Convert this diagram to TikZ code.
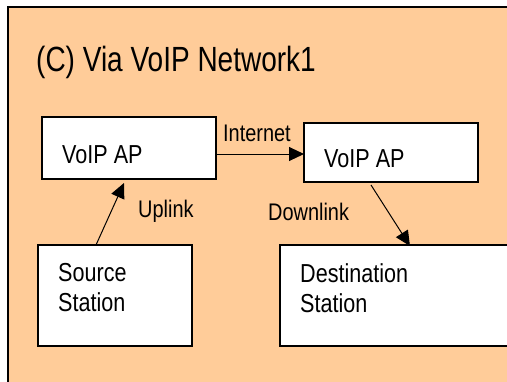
\documentclass[tikz,border=0pt]{standalone}
\usepackage{fontspec}
\setmainfont[FakeStretch=0.83]{Liberation Sans}
\newfontfamily\titlefont[FakeStretch=0.8]{Liberation Sans}
\usetikzlibrary{arrows.meta}
\definecolor{peach}{RGB}{255,204,153}
\begin{document}
\begin{tikzpicture}[x=1pt,y=-1pt,
  box/.style={draw=black,fill=white,line width=1.3pt,inner sep=0pt,outer sep=0pt,anchor=north west},
  boxtext/.style={inner sep=0pt,font=\fontsize{26}{30}\selectfont,align=left},
  lbl/.style={inner sep=0pt,anchor=base west,font=\fontsize{24}{28}\selectfont},
  arr/.style={line width=1pt,-{Triangle[length=15pt,width=14pt]}}]
\useasboundingbox (0,0) rectangle (507,381);
\clip (0,0) rectangle (507,381);
\fill[white] (0,0) rectangle (507,381);
\draw[fill=peach,line width=1.3pt] (8,7) rectangle (530,400);
\node[inner sep=0pt,anchor=base west,font=\titlefont\fontsize{35}{42}\selectfont] (title) at (36,71) {(C) Via VoIP Network1};
\node[box,minimum width=174pt,minimum height=62pt] (apL) at (42,117) {};
\node[box,minimum width=174pt,minimum height=59pt] (apR) at (304,123) {};
\node[box,minimum width=154pt,minimum height=101pt] (src) at (38,245) {};
\node[box,minimum width=250pt,minimum height=101pt] (dst) at (280,245) {};
\node[boxtext,anchor=base west] (apLt) at (62,163) {VoIP AP};
\node[boxtext,anchor=base west] (apRt) at (324,167) {VoIP AP};
\node[boxtext,anchor=north west] (srct) at (58,263.5) {Source\\Station};
\node[boxtext,anchor=north west] (dstt) at (300,263.5) {Destination\\Station};
\node[lbl] (inet) at (223,141) {Internet};
\node[lbl] (up) at (138,217) {Uplink};
\node[lbl] (down) at (268,220) {Downlink};
\draw[arr] ([yshift=-6pt]apL.east) -- ([yshift=-1.5pt]apR.west);
\draw[arr] ([xshift=-19pt]src.north) -- ([xshift=-5pt,yshift=-4pt]apL.south);
\draw[arr] ([xshift=-20pt,yshift=-3pt]apR.south) -- ([xshift=5pt,yshift=-1pt]dst.north);
\end{tikzpicture}
\end{document}
